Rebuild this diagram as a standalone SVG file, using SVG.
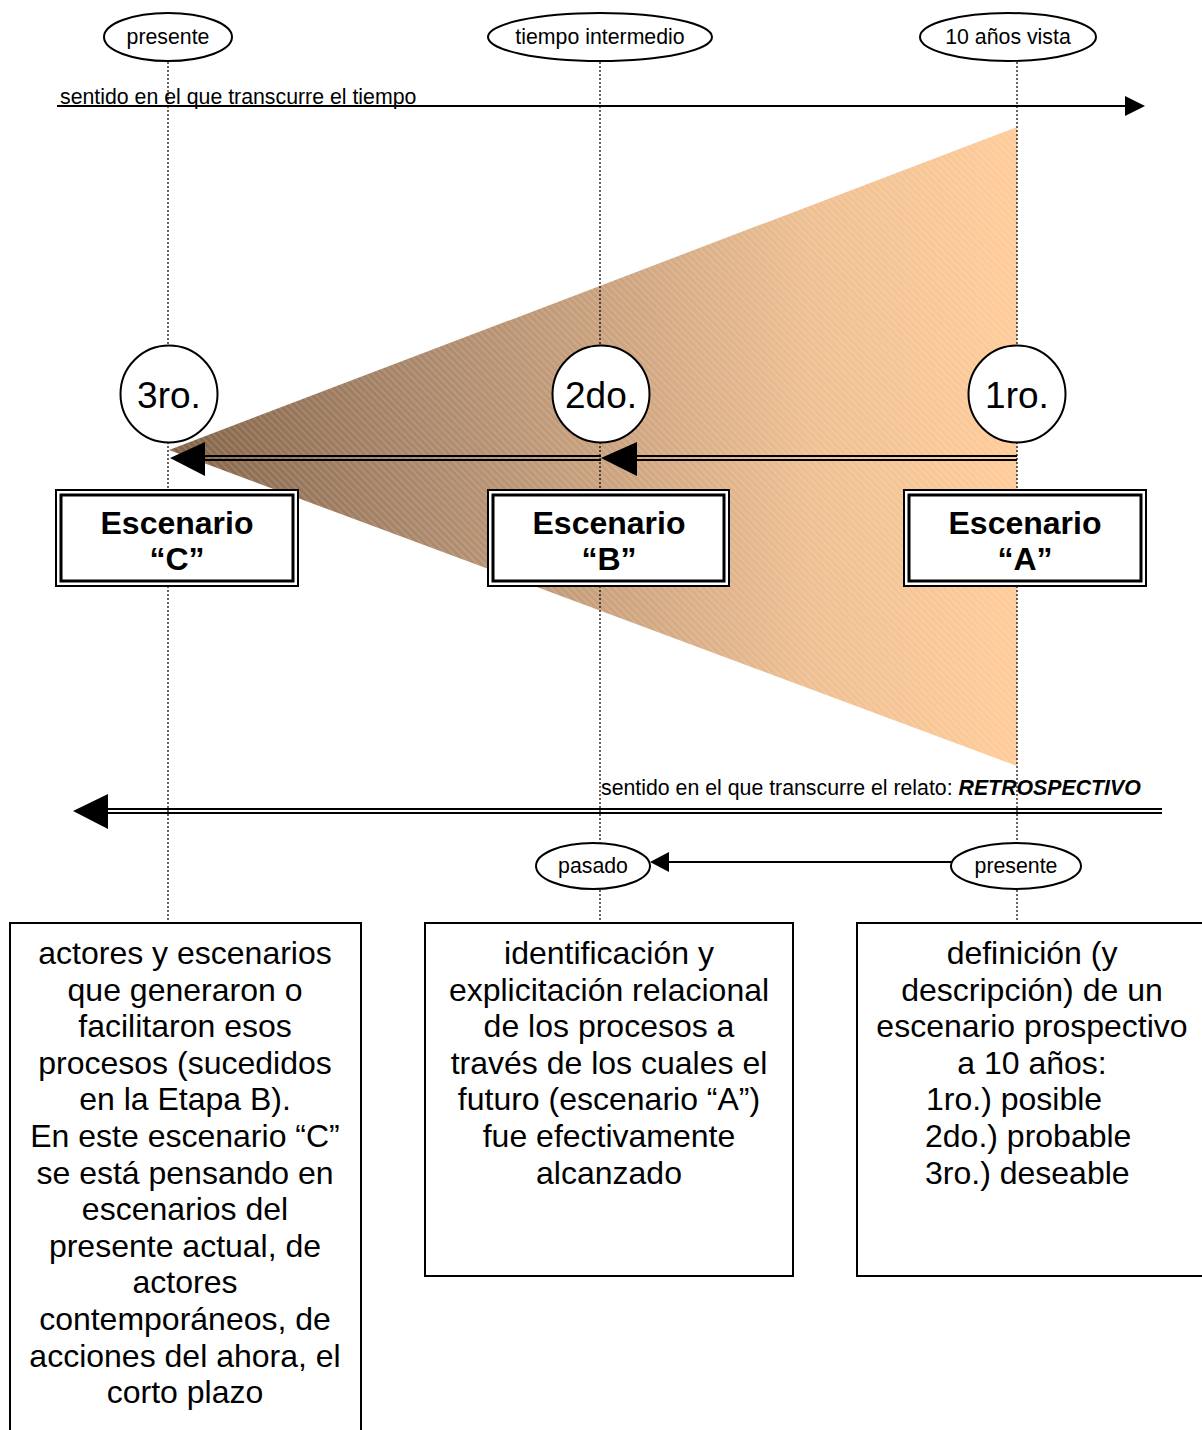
<svg xmlns="http://www.w3.org/2000/svg" width="1202" height="1430" viewBox="0 0 1202 1430">
<style>
text{font-family:"Liberation Sans",Arial,sans-serif;fill:#000}
.lbl{font-size:21.3px}
.big{font-size:32px}
.c{text-anchor:middle}
.bold{font-size:32px;font-weight:bold;text-anchor:middle}
.num{font-size:37px;text-anchor:middle}
.dot{stroke:#000;stroke-width:1.2;stroke-dasharray:2 2;fill:none}
.ln{stroke:#000;stroke-width:2;fill:none}
.ell{fill:#fff;stroke:#000;stroke-width:2}
.box{fill:#fff;stroke:#000;stroke-width:2}
.o{fill:#fff;stroke:#000;stroke-width:2}
.i{fill:none;stroke:#000;stroke-width:3}
</style>
<defs>
<linearGradient id="g" gradientUnits="userSpaceOnUse" x1="169" y1="0" x2="1017" y2="0">
<stop offset="0" stop-color="#836348"/>
<stop offset="0.28" stop-color="#a8866a"/>
<stop offset="0.5" stop-color="#c8a07c"/>
<stop offset="0.75" stop-color="#eebf92"/>
<stop offset="1" stop-color="#ffcc99"/>
</linearGradient>
<pattern id="h" patternUnits="userSpaceOnUse" width="5" height="5" patternTransform="rotate(45)">
<line x1="0" y1="1" x2="5" y2="1" stroke="#fff" stroke-width="0.8" stroke-opacity="0.3"/>
</pattern>
</defs>
<rect width="1202" height="1430" fill="#fff"/>
<g id="triangle">
<polygon points="169,450 1017,127 1017,766" fill="url(#g)"/>
<polygon points="169,450 1017,127 1017,766" fill="url(#h)"/>
</g>
<g id="guides">
<line class="dot" x1="168" y1="62" x2="168" y2="922"/>
<line class="dot" x1="600" y1="62" x2="600" y2="922"/>
<line class="dot" x1="1017" y1="62" x2="1017" y2="922"/>
</g>
<g id="connectors">
<line class="ln" x1="57" y1="106" x2="1127" y2="106"/>
<polygon points="1125,96 1145,106 1125,116" fill="#000"/>
<line class="ln" x1="1017" y1="456" x2="630" y2="456"/>
<line class="ln" x1="1017" y1="460" x2="630" y2="460"/>
<polygon points="637,442 601,458 637,476" fill="#000"/>
<line class="ln" x1="601" y1="456" x2="200" y2="456"/>
<line class="ln" x1="601" y1="460" x2="200" y2="460"/>
<polygon points="205,442 170,458 205,476" fill="#000"/>
<line class="ln" x1="1162" y1="809" x2="100" y2="809"/>
<line class="ln" x1="1162" y1="813" x2="100" y2="813"/>
<polygon points="108,794 73,811 108,829" fill="#000"/>
<line class="ln" x1="951" y1="862" x2="664" y2="862"/>
<polygon points="669,852 650,862 669,872" fill="#000"/>
</g>
<g id="lbl-tiempo">
<text class="lbl" x="60" y="104">sentido en el que transcurre el tiempo</text>
</g>
<g id="lbl-relato">
<text class="lbl" x="601" y="795">sentido en el que transcurre el relato: <tspan font-weight="bold" font-style="italic">RETROSPECTIVO</tspan></text>
</g>
<g id="top-presente">
<ellipse class="ell" cx="168" cy="37" rx="64" ry="24"/>
<text class="lbl c" x="168" y="44">presente</text>
</g>
<g id="top-intermedio">
<ellipse class="ell" cx="600" cy="37" rx="112" ry="24"/>
<text class="lbl c" x="600" y="44">tiempo intermedio</text>
</g>
<g id="top-vista">
<ellipse class="ell" cx="1008" cy="37" rx="88" ry="24"/>
<text class="lbl c" x="1008" y="44">10 años vista</text>
</g>
<g id="circle-3ro">
<circle class="ell" cx="169" cy="394" r="48.5"/>
<text class="num" x="169" y="408">3ro.</text>
</g>
<g id="circle-2do">
<circle class="ell" cx="601" cy="394" r="48.5"/>
<text class="num" x="601" y="408">2do.</text>
</g>
<g id="circle-1ro">
<circle class="ell" cx="1017" cy="394" r="48.5"/>
<text class="num" x="1017" y="408">1ro.</text>
</g>
<g id="escenario-c">
<rect class="o" x="56" y="490" width="242" height="96"/>
<rect class="i" x="61" y="495" width="232" height="86"/>
<text class="bold" x="177" y="534">Escenario</text>
<text class="bold" x="177" y="570">“C”</text>
</g>
<g id="escenario-b">
<rect class="o" x="488" y="490" width="241" height="96"/>
<rect class="i" x="493" y="495" width="231" height="86"/>
<text class="bold" x="609" y="534">Escenario</text>
<text class="bold" x="609" y="570">“B”</text>
</g>
<g id="escenario-a">
<rect class="o" x="904" y="490" width="242" height="96"/>
<rect class="i" x="909" y="495" width="232" height="86"/>
<text class="bold" x="1025" y="534">Escenario</text>
<text class="bold" x="1025" y="570">“A”</text>
</g>
<g id="bot-pasado">
<ellipse class="ell" cx="593" cy="866" rx="57" ry="23"/>
<text class="lbl c" x="593" y="873">pasado</text>
</g>
<g id="bot-presente">
<ellipse class="ell" cx="1016" cy="866" rx="65" ry="23"/>
<text class="lbl c" x="1016" y="873">presente</text>
</g>
<g id="box-c">
<rect class="box" x="10" y="923" width="351" height="520"/>
<text class="big c" x="185" y="964">actores y escenarios</text>
<text class="big c" x="185" y="1000.6">que generaron o</text>
<text class="big c" x="185" y="1037.2">facilitaron esos</text>
<text class="big c" x="185" y="1073.8">procesos (sucedidos</text>
<text class="big c" x="185" y="1110.4">en la Etapa B).</text>
<text class="big c" x="185" y="1147">En este escenario “C”</text>
<text class="big c" x="185" y="1183.6">se está pensando en</text>
<text class="big c" x="185" y="1220.2">escenarios del</text>
<text class="big c" x="185" y="1256.8">presente actual, de</text>
<text class="big c" x="185" y="1293.4">actores</text>
<text class="big c" x="185" y="1330">contemporáneos, de</text>
<text class="big c" x="185" y="1366.6">acciones del ahora, el</text>
<text class="big c" x="185" y="1403.2">corto plazo</text>
</g>
<g id="box-b">
<rect class="box" x="425" y="923" width="368" height="353"/>
<text class="big c" x="609" y="964">identificación y</text>
<text class="big c" x="609" y="1000.6">explicitación relacional</text>
<text class="big c" x="609" y="1037.2">de los procesos a</text>
<text class="big c" x="609" y="1073.8">través de los cuales el</text>
<text class="big c" x="609" y="1110.4">futuro (escenario “A”)</text>
<text class="big c" x="609" y="1147">fue efectivamente</text>
<text class="big c" x="609" y="1183.6">alcanzado</text>
</g>
<g id="box-a">
<rect class="box" x="857" y="923" width="360" height="353"/>
<text class="big c" x="1032" y="964">definición (y</text>
<text class="big c" x="1032" y="1000.6">descripción) de un</text>
<text class="big c" x="1032" y="1037.2">escenario prospectivo</text>
<text class="big c" x="1032" y="1073.8">a 10 años:</text>
<text class="big" x="926" y="1110.4">1ro.) posible</text>
<text class="big" x="925" y="1147">2do.) probable</text>
<text class="big" x="925" y="1183.6">3ro.) deseable</text>
</g>
</svg>
